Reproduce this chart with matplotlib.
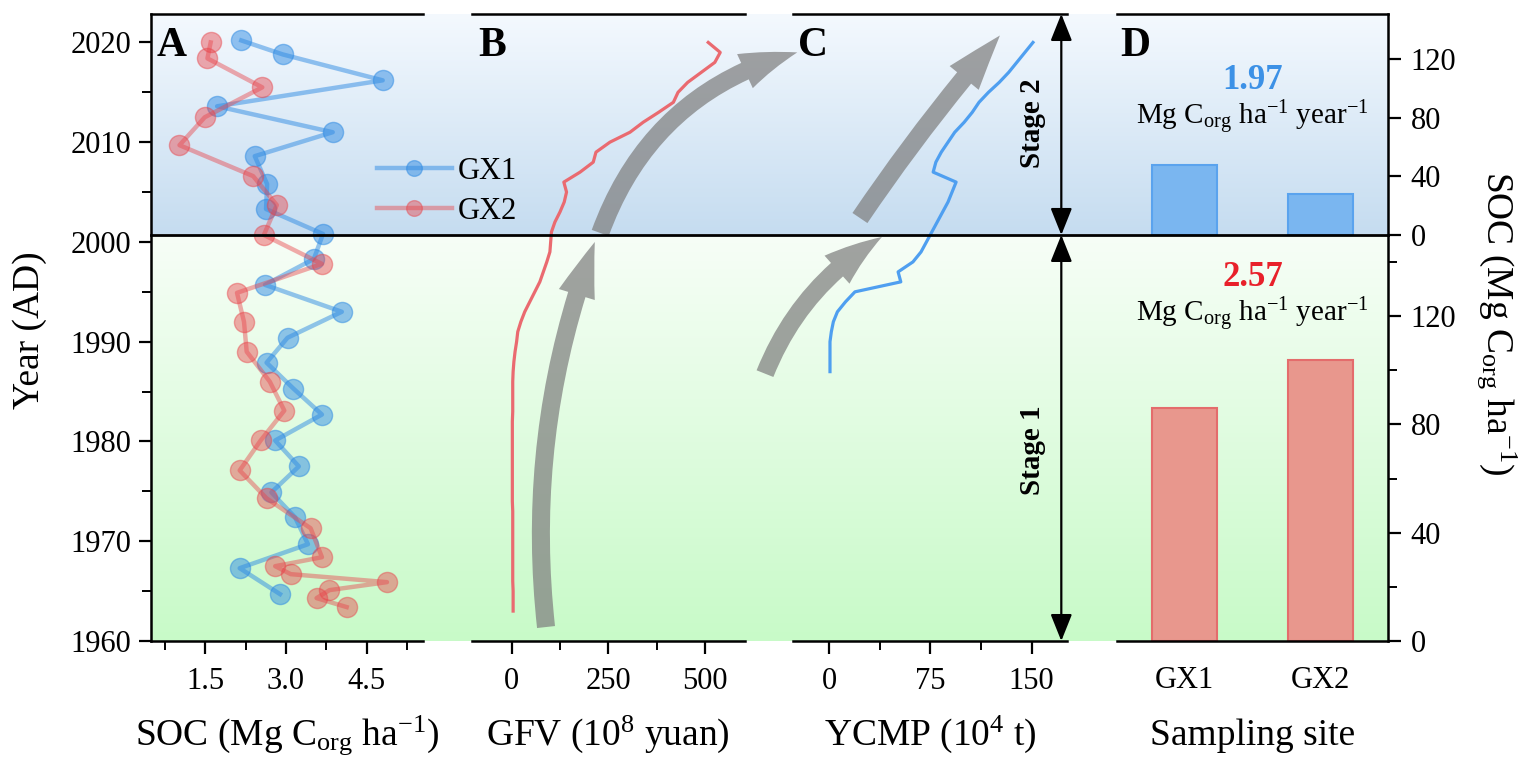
import numpy as np
import matplotlib
matplotlib.use('Agg')
import matplotlib.pyplot as plt
import matplotlib.transforms as mtransforms
from matplotlib.patches import FancyArrowPatch, ArrowStyle
from matplotlib.lines import Line2D
from matplotlib.ticker import MultipleLocator, FixedLocator, FormatStrFormatter

plt.rcParams['font.family'] = ['Liberation Serif', 'DejaVu Serif']
plt.rcParams['mathtext.fontset'] = 'custom'
plt.rcParams['mathtext.rm'] = 'Liberation Serif'
plt.rcParams['mathtext.it'] = 'Liberation Serif:italic'
plt.rcParams['mathtext.bf'] = 'Liberation Serif:bold'

# ---------------- data ----------------
years_gx1 = [2020.2, 2018.8, 2016.2, 2013.6, 2011.0, 2008.6, 2005.8, 2003.3, 2000.8, 1998.3,
             1995.7, 1993.0, 1990.4, 1987.9, 1985.3, 1982.7, 1980.1, 1977.5, 1974.9, 1972.4,
             1969.7, 1967.3, 1964.7]
soc_gx1 = [2.17, 2.94, 4.80, 1.72, 3.87, 2.42, 2.65, 2.63, 3.69, 3.52,
           2.61, 4.04, 3.03, 2.64, 3.14, 3.67, 2.80, 3.24, 2.73, 3.17,
           3.41, 2.14, 2.89]

years_gx2 = [2020.0, 2018.4, 2015.5, 2012.5, 2009.7, 2006.6, 2003.7, 2000.7, 1997.8, 1994.9,
             1992.0, 1989.0, 1986.0, 1983.1, 1980.1, 1977.1, 1974.3, 1971.3, 1968.4, 1967.5,
             1966.7, 1965.9, 1965.1, 1964.3, 1963.4]
soc_gx2 = [1.60, 1.54, 2.56, 1.49, 1.02, 2.39, 2.83, 2.59, 3.67, 2.09,
           2.22, 2.27, 2.70, 2.97, 2.53, 2.14, 2.64, 3.46, 3.67, 2.80,
           3.09, 4.88, 3.81, 3.57, 4.13]

gfv_years = list(range(1963, 2021))
gfv = [4, 4, 4, 3, 3, 3, 3, 3, 3, 3, 3, 2, 2, 2, 2, 2, 2, 2, 2, 2,
       3, 3, 3, 3, 4, 6, 9, 13, 16, 24,
       34, 47, 60, 73, 82, 91, 99, 101, 103, 112,
       125, 136, 142, 135, 177, 211, 218, 254, 306, 340,
       380, 418, 430, 455, 490, 525, 539, 508]

ycmp_years = list(range(1987, 2021))
ycmp = [0.5, 0.5, 0.5, 0.5, 1.5, 3, 6, 12, 19, 53,
        51, 62, 68, 72, 76, 80, 84, 88, 91, 94,
        77, 79, 83, 88, 93, 100, 106, 111, 118, 126,
        133, 139, 145, 151]

sites = ['GX1', 'GX2']
soc_stage2 = [48, 28]
soc_stage1 = [86, 104]
rate_stage2 = '1.97'
rate_stage1 = '2.57'

split_year = 2000.7
y_min, y_max = 1960, 2022.85

# ---------------- figure ----------------
W, H = 1535, 771
fig = plt.figure(figsize=(W / 100, H / 100), dpi=100)


def frac(x0, x1, ytop, ybot):
    return [x0 / W, 1 - ybot / H, (x1 - x0) / W, (ybot - ytop) / H]


TOP, BOT = 14, 641
# background gradient
bg = fig.add_axes(frac(151, 1388.3, TOP, BOT), zorder=-5)
bg.axis('off')


def grad(c_top, c_bot, n=256):
    t = np.linspace(0, 1, n)[:, None]
    a = np.array(c_top) / 255.0
    b = np.array(c_bot) / 255.0
    return (a * (1 - t) + b * t)[:, None, :]


bg.imshow(grad((244, 249, 254), (197, 220, 240)), extent=[0, 1, split_year, y_max],
          aspect='auto', origin='upper', interpolation='bilinear')
bg.imshow(grad((247, 254, 247), (200, 250, 200)), extent=[0, 1, y_min, split_year],
          aspect='auto', origin='upper', interpolation='bilinear')
bg.set_xlim(0, 1)
bg.set_ylim(y_min, y_max)

axA = fig.add_axes(frac(151, 423, TOP, BOT))
axB = fig.add_axes(frac(471.7, 745, TOP, BOT))
axC = fig.add_axes(frac(793.3, 1066.7, TOP, BOT))
axD2 = fig.add_axes(frac(1116.7, 1388.3, TOP, 235))
axD1 = fig.add_axes(frac(1116.7, 1388.3, 235, BOT))

SP_LW = 1.8
TICK_FS = 22
LAB_FS = 27

for ax in [axA, axB, axC, axD1, axD2]:
    ax.set_facecolor('none')
    for s in ax.spines.values():
        s.set_linewidth(SP_LW)
        s.set_visible(False)
    ax.tick_params(which='major', direction='out', length=9, width=1.6, labelsize=TICK_FS)
    ax.tick_params(which='minor', direction='out', length=6.5, width=1.4)

for ax in [axA, axB, axC]:
    ax.spines['top'].set_visible(True)
    ax.spines['bottom'].set_visible(True)
    ax.tick_params(axis='x', which='major', pad=10)

# Panel A
axA.spines['left'].set_visible(True)
axA.set_xlim(0.49, 5.55)
axA.xaxis.set_major_locator(FixedLocator([1.5, 3.0, 4.5]))
axA.xaxis.set_minor_locator(FixedLocator([0.75, 2.25, 3.75, 5.25]))
axA.xaxis.set_major_formatter(FormatStrFormatter('%.1f'))
axA.yaxis.set_major_locator(MultipleLocator(10))
axA.yaxis.set_minor_locator(MultipleLocator(5))
axA.tick_params(axis='y', which='major', pad=5)

blue = '#2f8be3'
red = '#e8464c'
l1, = axA.plot(soc_gx1, years_gx1, '-o', color=blue, lw=3.2, ms=14.5, alpha=0.5,
               mec=blue, mew=1.0, label='GX1', clip_on=False, zorder=3)
l2, = axA.plot(soc_gx2, years_gx2, '-o', color=red, lw=3.2, ms=14.5, alpha=0.45,
               mec=red, mew=1.0, label='GX2', clip_on=False, zorder=3)
axA.legend(handles=[l1, l2], loc='upper left', bbox_to_anchor=((377 - 151) / 272, (641 - 157) / 627),
           frameon=False, fontsize=TICK_FS, handlelength=2.45, handletextpad=0.2,
           labelspacing=0.36, borderpad=0, borderaxespad=0, markerscale=0.78)

# Panel B
axB.set_xlim(-103, 603)
axB.xaxis.set_major_locator(FixedLocator([0, 250, 500]))
axB.xaxis.set_minor_locator(FixedLocator([125, 375]))
axB.tick_params(axis='y', left=False, labelleft=False, which='both')
axB.plot(gfv, gfv_years, color='#ea6a70', lw=2.3, zorder=3)

# Panel C
axC.set_xlim(-26.7, 176)
axC.xaxis.set_major_locator(FixedLocator([0, 75, 150]))
axC.xaxis.set_minor_locator(FixedLocator([37.5, 112.5]))
axC.tick_params(axis='y', left=False, labelleft=False, which='both')
axC.plot(ycmp, ycmp_years, color='#4f9ff0', lw=2.3, zorder=3)

for ax in [axA, axB, axC]:
    ax.set_ylim(y_min, y_max)

# Gray decorative trend arrows (data coords of their panels)
arrow_specs = [
    (axB, (89, 1961.4), (215, 2000.0), -0.12),
    (axB, (229, 2000.9), (738, 2019.0), -0.26),
    (axC, (-47.7, 1986.8), (39, 2000.5), -0.17),
    (axC, (22.7, 2002.4), (126.5, 2020.7), -0.03),
]
for ax, pa, pb, rad in arrow_specs:
    arr = FancyArrowPatch(pa, pb, transform=ax.transData,
                          arrowstyle=ArrowStyle.Simple(head_length=40, head_width=27, tail_width=13),
                          connectionstyle=f'arc3,rad={rad}', mutation_scale=1,
                          color='#7f7f7f', alpha=0.72, lw=0, shrinkA=0, shrinkB=0,
                          clip_on=False, zorder=2)
    ax.add_patch(arr)

# Stage arrows
stage_x = 172
for ya, yb in [(y_max, split_year), (split_year, y_min)]:
    axC.annotate('', xy=(stage_x, ya), xytext=(stage_x, yb), xycoords='data',
                 arrowprops=dict(arrowstyle='<|-|>,head_length=0.55,head_width=0.22', color='k',
                                 lw=1.6, mutation_scale=30, shrinkA=0, shrinkB=0),
                 annotation_clip=False)
fig.text(1033 / W, 1 - 123 / H, 'Stage 2', rotation=90, ha='center', va='center',
         fontsize=21, fontweight='bold')
fig.text(1033 / W, 1 - 450 / H, 'Stage 1', rotation=90, ha='center', va='center',
         fontsize=21, fontweight='bold')

# Panel D
xpos = [1, 2]
for ax in [axD1, axD2]:
    ax.set_xlim(0.5, 2.5)
    ax.spines['right'].set_visible(True)
    ax.yaxis.set_ticks_position('right')
    ax.tick_params(axis='y', which='both', right=True, left=False, labelright=True,
                   labelleft=False, pad=7)
axD2.spines['top'].set_visible(True)
axD1.spines['bottom'].set_visible(True)

axD2.set_ylim(0, 151)
axD2.yaxis.set_major_locator(FixedLocator([0, 40, 80, 120]))
axD2.tick_params(axis='x', bottom=False, labelbottom=False)
axD2.bar(xpos, soc_stage2, width=0.48, color='#7ab6f0', edgecolor='#5aa3ee', lw=1.5, zorder=2)

axD1.set_ylim(0, 150)
axD1.yaxis.set_major_locator(FixedLocator([0, 40, 80, 120]))
axD1.yaxis.set_minor_locator(FixedLocator([20, 60, 100, 140]))
axD1.set_xticks(xpos)
axD1.set_xticklabels(sites)
axD1.tick_params(axis='x', length=0, pad=18)
axD1.bar(xpos, soc_stage1, width=0.48, color='#e8978d', edgecolor='#e46c6c', lw=1.5, zorder=2)

unit_txt = r'Mg C$_{\mathrm{org}}$ ha$^{-1}$ year$^{-1}$'
axD2.text(0.5, 0.659, rate_stage2, transform=axD2.transAxes, ha='center', va='baseline',
          fontsize=25, fontweight='bold', color='#3c91e6')
axD2.text(0.5, 0.498, unit_txt, transform=axD2.transAxes, ha='center', va='baseline', fontsize=21)
axD1.text(0.5, 0.874, rate_stage1, transform=axD1.transAxes, ha='center', va='baseline',
          fontsize=25, fontweight='bold', color='#e8202a')
axD1.text(0.5, 0.786, unit_txt, transform=axD1.transAxes, ha='center', va='baseline', fontsize=21)

# Split line across all panels
split_line = Line2D([0, 1], [split_year, split_year], color='k', lw=2.0,
                    transform=mtransforms.blended_transform_factory(bg.transAxes, bg.transData),
                    zorder=10)
fig.add_artist(split_line)

# Panel letters
for letter, xpx in [('A', 157), ('B', 478), ('C', 798), ('D', 1120)]:
    fig.text(xpx / W, 1 - 56 / H, letter, ha='left', va='baseline', fontsize=30, fontweight='bold')

# Axis labels
xlabels = [(axA, r'SOC (Mg C$_{\mathrm{org}}$ ha$^{-1}$)'),
           (axB, r'GFV (10$^{8}$ yuan)'),
           (axC, r'YCMP (10$^{4}$ t)'),
           (axD1, 'Sampling site')]
for ax, lab in xlabels:
    pos = ax.get_position()
    fig.text(pos.x0 + pos.width / 2, 1 - 745 / H, lab, ha='center', va='baseline', fontsize=LAB_FS)

fig.text(30 / W, 1 - 330 / H, 'Year (AD)', rotation=90, ha='center', va='center', fontsize=LAB_FS)
fig.text(1497 / W, 1 - 323 / H, r'SOC (Mg C$_{\mathrm{org}}$ ha$^{-1}$)', rotation=270,
         ha='center', va='center', fontsize=LAB_FS)

fig.savefig('out.png', dpi=100)
